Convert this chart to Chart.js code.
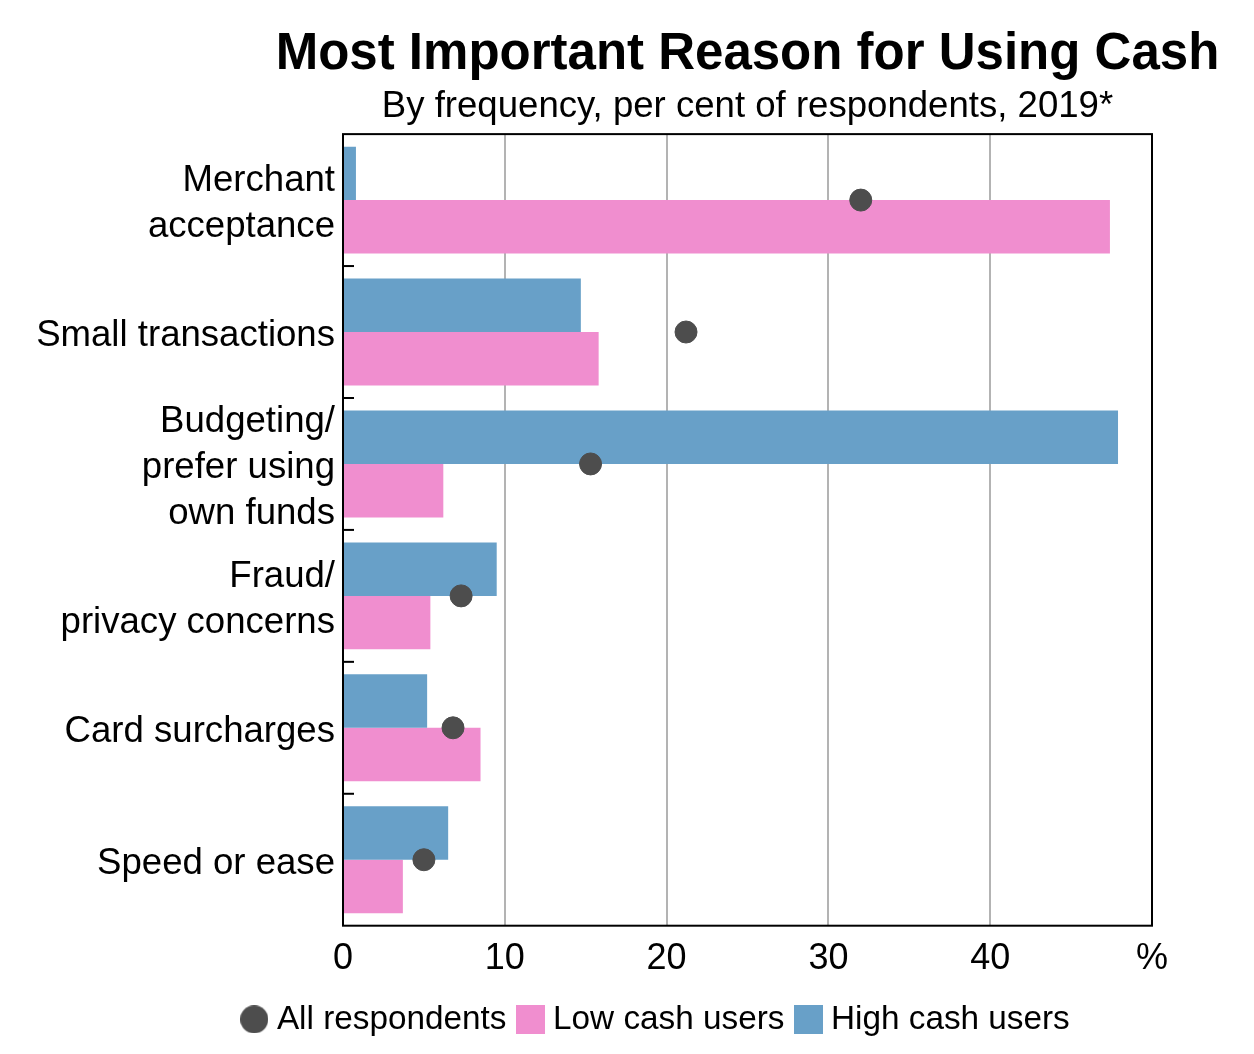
<!DOCTYPE html>
<html lang="en">
<head>
  <meta charset="UTF-8" />
  <title>Most Important Reason for Using Cash</title>
  <script src="https://cdn.jsdelivr.net/npm/chart.js"></script>
  <style>
    html, body { margin: 0; padding: 0; background: #fff; }
    canvas { display: block; }
  </style>
</head>
<body>
<canvas id="cashChart" width="1254" height="1054"></canvas>
<script>
// data
const categories = [
  ["Merchant", "acceptance"],
  "Small transactions",
  ["Budgeting/", "prefer using", "own funds"],
  ["Fraud/", "privacy concerns"],
  "Card surcharges",
  "Speed or ease"
];
const allRespondents = [32.0, 21.2, 15.3, 7.3, 6.8, 5.0];
const lowCashUsers = [47.4, 15.8, 6.2, 5.4, 8.5, 3.7];
const highCashUsers = [0.8, 14.7, 47.9, 9.5, 5.2, 6.5];
const xTicks = [0, 10, 20, 30, 40, 50];

const FONT = "Arial, 'Liberation Sans', sans-serif";
const DOT = "#4d4d4d", PINK = "#f08ecf", BLUE = "#68a0c8";

// small legend icons
function icon(shape, color, size) {
  const c = document.createElement("canvas");
  c.width = size; c.height = size;
  const g = c.getContext("2d");
  g.fillStyle = color;
  if (shape === "circle") {
    g.beginPath(); g.arc(size / 2, size / 2, size / 2, 0, Math.PI * 2); g.fill();
  } else {
    g.fillRect(0, 0, size, size);
  }
  return c;
}
const icons = [icon("circle", DOT, 28), icon("rect", BLUE, 29), icon("rect", PINK, 29)];
const legendOrder = [0, 2, 1];

// frame, the little category ticks inside the left edge, title/legend centring
const framePlugin = {
  id: "frame",
  afterLayout(chart) {
    const a = chart.chartArea;
    const mid = (a.left + a.right) / 2;
    // title is wider than the plot, widen its box so it isn't squeezed
    chart.titleBlock.left = mid - 600;
    chart.titleBlock.right = mid + 600;
    chart.titleBlock.width = 1200;
    // the legend in the reference is centred a bit right of the page centre
    chart.legend.left = 166;
    chart.legend.right = a.right;
  },
  afterDraw(chart) {
    const { ctx, chartArea: a, scales } = chart;
    ctx.save();
    ctx.strokeStyle = "#000";
    ctx.lineWidth = 2;
    for (let i = 0; i < categories.length - 1; i++) {
      const y = (scales.y.getPixelForValue(i) + scales.y.getPixelForValue(i + 1)) / 2;
      ctx.beginPath();
      ctx.moveTo(a.left, y);
      ctx.lineTo(a.left + 11, y);
      ctx.stroke();
    }
    ctx.strokeRect(a.left, a.top, a.right - a.left, a.bottom - a.top);
    ctx.restore();
  }
};

new Chart(document.getElementById("cashChart"), {
  type: "bar",
  data: {
    labels: categories,
    datasets: [
      {
        type: "line",
        label: "All respondents",
        data: allRespondents,
        indexAxis: "y",
        showLine: false,
        pointRadius: 11,
        pointBackgroundColor: DOT,
        pointBorderColor: DOT,
        borderColor: DOT,
        backgroundColor: DOT
      },
      {
        label: "High cash users",
        data: highCashUsers,
        backgroundColor: BLUE,
        borderWidth: 0,
        categoryPercentage: 0.81,
        barPercentage: 1.0
      },
      {
        label: "Low cash users",
        data: lowCashUsers,
        backgroundColor: PINK,
        borderWidth: 0,
        categoryPercentage: 0.81,
        barPercentage: 1.0
      }
    ]
  },
  options: {
    indexAxis: "y",
    responsive: false,
    animation: false,
    devicePixelRatio: 1,
    layout: { padding: { left: 10, right: 102, top: 0, bottom: 8 } },
    scales: {
      x: {
        min: 0,
        max: 50,
        afterBuildTicks: s => { s.ticks = xTicks.map(v => ({ value: v })); },
        afterFit: s => { s.height = 59; },
        ticks: {
          color: "#000",
          padding: 12,
          maxRotation: 0,
          font: { family: FONT, size: 36 },
          callback: v => (v === 50 ? "%" : v)
        },
        grid: {
          drawTicks: false,
          lineWidth: 2,
          color: c => (c.tick && (c.tick.value === 0 || c.tick.value === 50) ? "rgba(0,0,0,0)" : "#b3b3b3")
        },
        border: { display: false }
      },
      y: {
        afterFit: s => { s.width = 343 - 10; },
        ticks: {
          color: "#000",
          padding: 8,
          autoSkip: false,
          labelOffset: 4,
          font: { family: FONT, size: 36.6, lineHeight: 1.26 }
        },
        grid: { display: false, drawTicks: false },
        border: { display: false }
      }
    },
    plugins: {
      title: {
        display: true,
        text: "Most Important Reason for Using Cash",
        fullSize: false,
        color: "#000",
        font: { family: FONT, size: 51, weight: "bold" },
        padding: { top: 24, bottom: 0 }
      },
      subtitle: {
        display: true,
        text: "By frequency, per cent of respondents, 2019*",
        fullSize: false,
        color: "#000",
        font: { family: FONT, size: 36.6 },
        padding: { top: 0, bottom: 5 }
      },
      legend: {
        position: "bottom",
        labels: {
          color: "#000",
          font: { family: FONT, size: 33.3 },
          usePointStyle: true,
          boxWidth: 12,
          boxHeight: 12,
          padding: 18,
          generateLabels: chart => {
            const items = Chart.defaults.plugins.legend.labels.generateLabels(chart);
            items.forEach(it => { it.pointStyle = icons[it.datasetIndex]; });
            return items;
          },
          sort: (a, b) => legendOrder.indexOf(a.datasetIndex) - legendOrder.indexOf(b.datasetIndex)
        }
      },
      tooltip: { enabled: false }
    }
  },
  plugins: [framePlugin]
});
</script>
</body>
</html>
